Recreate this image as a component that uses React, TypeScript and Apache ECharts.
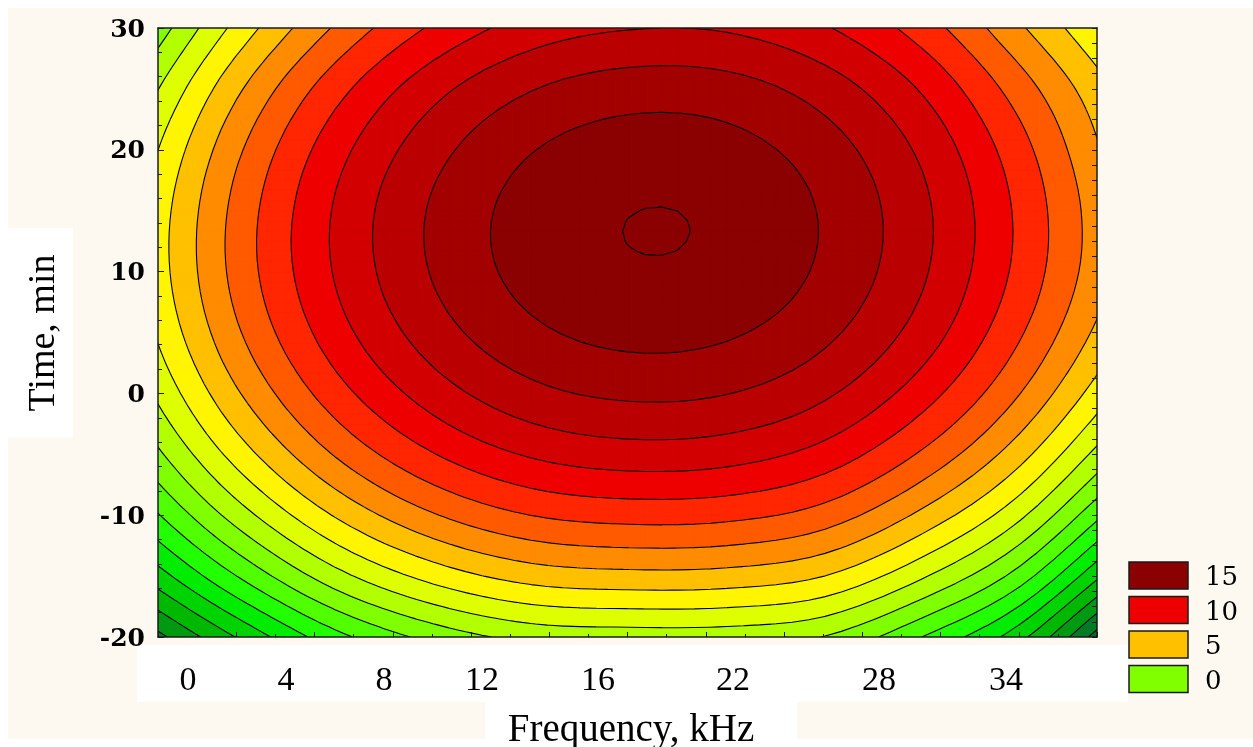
import React, { useEffect, useRef } from "react";
import * as echarts from "echarts";

// ---------- data ----------
// grid of the fitted response, Frequency (kHz) along x, Time (min) along y
const xNodes = [-2, 2, 6, 10, 14, 18, 22, 26, 30, 34, 38];
const yNodes = [-20, -15, -10, -5, 0, 5, 10, 15, 20, 25, 30];

const zTimeM20 = [-9.81, -6.18, -2.95, -0.84, 0.38, 0.6, 0.56, -0.06, -2.53, -5.9, -12.0];
const zTimeM15 = [-6.29, -2.49, 0.76, 2.96, 4.26, 4.61, 4.51, 3.74, 1.39, -1.89, -7.25];
const zTimeM10 = [-3.36, 0.58, 3.85, 6.14, 7.51, 7.96, 7.83, 6.93, 4.66, 1.48, -3.29];
const zTimeM5 = [-1.04, 3.03, 6.34, 8.69, 10.14, 10.68, 10.5, 9.5, 7.3, 4.18, -0.11];
const zTime0 = [0.69, 4.86, 8.2, 10.61, 12.13, 12.73, 12.53, 11.45, 9.3, 6.23, 2.29];
const zTime5 = [1.83, 6.08, 9.45, 11.91, 13.48, 14.13, 13.91, 12.79, 10.68, 7.61, 3.91];
const zTime10 = [2.35, 6.68, 10.09, 12.59, 14.19, 14.88, 14.66, 13.51, 11.4, 8.35, 4.75];
const zTime15 = [2.29, 6.65, 10.11, 12.65, 14.26, 14.98, 14.78, 13.61, 11.5, 8.44, 4.83];
const zTime20 = [1.63, 6.01, 9.5, 12.05, 13.69, 14.4, 14.21, 13.08, 10.98, 7.93, 4.31];
const zTime25 = [0.35, 4.76, 8.26, 10.83, 12.44, 13.14, 13.0, 11.91, 9.85, 6.83, 3.5];
const zTime30 = [-1.51, 2.9, 6.39, 8.94, 10.54, 11.19, 11.11, 10.11, 8.13, 5.15, 2.0];

const zGrid = [
  zTimeM20, zTimeM15, zTimeM10, zTimeM5, zTime0, zTime5,
  zTime10, zTime15, zTime20, zTime25, zTime30,
];

// contour levels (descending) and the fill colour of the band just below each level
const contourLevels = [
  15, 13.75, 12.5, 11.25, 10, 8.75, 7.5, 6.25, 5, 3.75, 2.5, 1.25, 0,
  -1.25, -2.5, -3.75, -5, -6.25, -7.5, -8.75, -10, -11.25, -12.5,
];
const bandColors = [
  "#8B0000", "#A30000", "#BA0000", "#D20000", "#EE0000", "#FF2600",
  "#FF5A00", "#FF8C00", "#FFC000", "#FFF500", "#DEFF00", "#B2FF00",
  "#80FF00", "#50FF00", "#22FF00", "#00EC00", "#00D400", "#00B800",
  "#009A12", "#007C26", "#006A32", "#005A36", "#004A38",
];

const xTickLabels = ["0", "4", "8", "12", "16", "22", "28", "34"];
const xTickPos = [0, 4, 8, 12, 16.73, 22.24, 28.2, 33.39];

const legendLabels = ["15", "10", "5", "0"];
const legendColors = ["#8B0000", "#EE0000", "#FFC000", "#80FF00"];

// ---------- layout ----------
const X_MIN = -1.2245;
const X_MAX = 37.102;
const UPSAMPLE = 6;

type P3 = [number, number, number];

function kernel(t: number): number {
  const a = -0.5;
  t = Math.abs(t);
  if (t <= 1) return (a + 2) * t * t * t - (a + 3) * t * t + 1;
  if (t < 2) return a * t * t * t - 5 * a * t * t + 8 * a * t - 4 * a;
  return 0;
}

function nodeVal(i: number, j: number): number {
  const nx = xNodes.length;
  const ny = yNodes.length;
  if (j < 0) return 2 * nodeVal(i, 0) - nodeVal(i, 1);
  if (j >= ny) return 2 * nodeVal(i, ny - 1) - nodeVal(i, ny - 2);
  if (i < 0) return 2 * zGrid[j][0] - zGrid[j][1];
  if (i >= nx) return 2 * zGrid[j][nx - 1] - zGrid[j][nx - 2];
  return zGrid[j][i];
}

function sampleZ(x: number, y: number): number {
  const u = (x - xNodes[0]) / (xNodes[1] - xNodes[0]);
  const v = (y - yNodes[0]) / (yNodes[1] - yNodes[0]);
  const i0 = Math.floor(u);
  const j0 = Math.floor(v);
  let s = 0;
  for (let dj = -1; dj <= 2; dj++) {
    const wy = kernel(v - (j0 + dj));
    if (wy === 0) continue;
    for (let di = -1; di <= 2; di++) {
      const wx = kernel(u - (i0 + di));
      if (wx === 0) continue;
      s += wx * wy * nodeVal(i0 + di, j0 + dj);
    }
  }
  return s;
}

function clipPoly(poly: P3[], level: number, keepAbove: boolean): P3[] {
  const out: P3[] = [];
  const n = poly.length;
  for (let i = 0; i < n; i++) {
    const a = poly[i];
    const b = poly[(i + 1) % n];
    const ina = keepAbove ? a[2] >= level : a[2] <= level;
    const inb = keepAbove ? b[2] >= level : b[2] <= level;
    if (ina) out.push(a);
    if (ina !== inb) {
      const t = (level - a[2]) / (b[2] - a[2]);
      out.push([a[0] + t * (b[0] - a[0]), a[1] + t * (b[1] - a[1]), level]);
    }
  }
  return out;
}

// number of contour levels lying above z (distinct for every interval)
function levelCount(z: number): number {
  let c = 0;
  for (const L of contourLevels) if (L > z) c++;
  return c;
}

function buildContours(ox: number, oy: number, sx: number, sy: number) {
  const nb = contourLevels.length;
  const nx = (xNodes.length - 1) * UPSAMPLE + 1;
  const ny = (yNodes.length - 1) * UPSAMPLE + 1;
  const dx = (xNodes[1] - xNodes[0]) / UPSAMPLE;
  const dy = (yNodes[1] - yNodes[0]) / UPSAMPLE;
  const XS: number[] = [];
  const YS: number[] = [];
  for (let i = 0; i < nx; i++) XS.push(xNodes[0] + i * dx);
  for (let j = 0; j < ny; j++) YS.push(yNodes[0] + j * dy);
  const Z = new Float64Array(nx * ny);
  for (let j = 0; j < ny; j++)
    for (let i = 0; i < nx; i++) Z[j * nx + i] = sampleZ(XS[i], YS[j]);

  const bands: string[][] = bandColors.map(() => []);
  const lines: string[] = [];
  const f = (p: P3) =>
    (ox + p[0] * sx).toFixed(2) + "," + (oy + p[1] * sy).toFixed(2);
  const polyStr = (poly: P3[]) => "M" + poly.map(f).join("L") + "Z";

  for (let j = 0; j < ny - 1; j++) {
    for (let i = 0; i < nx - 1; i++) {
      const a: P3 = [XS[i], YS[j], Z[j * nx + i]];
      const b: P3 = [XS[i + 1], YS[j], Z[j * nx + i + 1]];
      const c: P3 = [XS[i + 1], YS[j + 1], Z[(j + 1) * nx + i + 1]];
      const d: P3 = [XS[i], YS[j + 1], Z[(j + 1) * nx + i]];
      const cmin = Math.min(a[2], b[2], c[2], d[2]);
      const cmax = Math.max(a[2], b[2], c[2], d[2]);
      const cntMin = levelCount(cmin);
      if (cntMin === levelCount(cmax)) {
        bands[Math.max(cntMin - 1, 0)].push(polyStr([a, b, c, d]));
        continue;
      }
      const tris: P3[][] = [[a, b, c], [a, c, d]];
      for (const tri of tris) {
        const zmin = Math.min(tri[0][2], tri[1][2], tri[2][2]);
        const zmax = Math.max(tri[0][2], tri[1][2], tri[2][2]);
        for (let k = 0; k < nb; k++) {
          const hi = k === 0 ? Infinity : contourLevels[k];
          const lo = k === nb - 1 ? -Infinity : contourLevels[k + 1];
          if (hi < zmin || lo > zmax) continue;
          let poly = tri;
          if (lo > zmin) poly = clipPoly(poly, lo, true);
          if (poly.length >= 3 && hi < zmax) poly = clipPoly(poly, hi, false);
          if (poly.length >= 3) bands[k].push(polyStr(poly));
        }
        for (const L of contourLevels) {
          if (L <= zmin || L > zmax) continue;
          const pts: P3[] = [];
          for (let e = 0; e < 3; e++) {
            const p = tri[e];
            const q = tri[(e + 1) % 3];
            if ((p[2] >= L) !== (q[2] >= L)) {
              const t = (L - p[2]) / (q[2] - p[2]);
              pts.push([p[0] + t * (q[0] - p[0]), p[1] + t * (q[1] - p[1]), L]);
            }
          }
          if (pts.length === 2) lines.push("M" + f(pts[0]) + "L" + f(pts[1]));
        }
      }
    }
  }
  return { bands: bands.map((arr) => arr.join("")), lines: lines.join("") };
}

const renderContour = (_params: any, api: any) => {
  const o = api.coord([0, 0]);
  const ex = api.coord([1, 0]);
  const ey = api.coord([0, 1]);
  const { bands, lines } = buildContours(o[0], o[1], ex[0] - o[0], ey[1] - o[1]);
  const children: any[] = [];
  bands.forEach((d, k) => {
    if (d) {
      children.push({
        type: "path",
        shape: { pathData: d },
        style: { fill: bandColors[k], stroke: bandColors[k], lineWidth: 0.6 },
      });
    }
  });
  children.push({
    type: "path",
    shape: { pathData: lines },
    style: { fill: "none", stroke: "#000", lineWidth: 1.1 },
  });
  return { type: "group", children };
};

const FRAME = { color: "#1a1a1a", width: 1.5 };
const TICK = { color: "#1a1a1a", width: 1 };
const SERIF = "Liberation Serif";

const legendElements: any[] = [];
legendLabels.forEach((lab, i) => {
  const y = 554 + i * 34.5;
  legendElements.push({
    type: "rect",
    z: 20,
    shape: { x: 1121, y, width: 59, height: 27 },
    style: { fill: legendColors[i], stroke: "#1a1a1a", lineWidth: 1.5 },
  });
  legendElements.push({
    type: "text",
    z: 20,
    x: 1197,
    y: y + 14,
    style: {
      text: lab,
      fill: "#000",
      font: '26px "DejaVu Serif"',
      textAlign: "left",
      textVerticalAlign: "middle",
    },
  });
});

const option: any = {
  animation: false,
  grid: {
    left: 150,
    top: 20,
    width: 939,
    height: 609,
    containLabel: false,
    outerBoundsMode: "none",
  },
  xAxis: [
    {
      type: "value",
      position: "bottom",
      min: X_MIN,
      max: X_MAX,
      z: 10,
      axisLine: { show: true, onZero: false, lineStyle: FRAME },
      axisTick: { show: false },
      splitLine: { show: false },
      axisLabel: {
        customValues: xTickPos,
        formatter: (v: number) => {
          let best = 0;
          for (let i = 1; i < xTickPos.length; i++)
            if (Math.abs(xTickPos[i] - v) < Math.abs(xTickPos[best] - v)) best = i;
          return xTickLabels[best];
        },
        margin: 24,
        color: "#000",
        fontFamily: SERIF,
        fontSize: 34,
        lineHeight: 34,
      },
    },
    {
      type: "value",
      position: "bottom",
      min: 0,
      max: 12,
      interval: 1,
      z: 10,
      axisLine: { show: false, onZero: false },
      axisLabel: { show: false },
      splitLine: { show: false },
      axisTick: { show: true, inside: true, length: 5, lineStyle: TICK },
      minorTick: { show: true, splitNumber: 2, length: 3, lineStyle: TICK },
    },
    {
      type: "value",
      position: "top",
      min: 0,
      max: 1,
      z: 10,
      axisLine: { show: true, onZero: false, lineStyle: FRAME },
      axisTick: { show: false },
      axisLabel: { show: false },
      splitLine: { show: false },
    },
  ],
  yAxis: [
    {
      type: "value",
      position: "left",
      min: -20,
      max: 30,
      interval: 10,
      z: 10,
      axisLine: { show: true, onZero: false, lineStyle: FRAME },
      axisTick: { show: true, inside: true, length: 6, lineStyle: TICK },
      minorTick: { show: true, splitNumber: 5, length: 4, lineStyle: TICK },
      splitLine: { show: false },
      axisLabel: {
        margin: 13,
        color: "#000",
        fontFamily: "DejaVu Serif",
        fontWeight: "bold",
        fontSize: 25,
      },
    },
    {
      type: "value",
      position: "right",
      min: 0,
      max: 40,
      interval: 1,
      z: 10,
      axisLine: { show: true, onZero: false, lineStyle: FRAME },
      axisTick: { show: true, inside: true, length: 5, lineStyle: TICK },
      axisLabel: { show: false },
      splitLine: { show: false },
    },
  ],
  series: [
    {
      type: "custom",
      xAxisIndex: 0,
      yAxisIndex: 0,
      clip: true,
      silent: true,
      z: 2,
      data: [[xNodes[0], yNodes[0]]],
      renderItem: renderContour,
    },
  ],
  graphic: {
    elements: [
      {
        type: "rect",
        z: -100,
        silent: true,
        shape: { x: 0, y: 0, width: 1245, height: 731 },
        style: { fill: "#FEF9F0" },
      },
      {
        type: "rect",
        z: -90,
        silent: true,
        shape: { x: 0, y: 220, width: 65, height: 210 },
        style: { fill: "#FFFFFF" },
      },
      {
        type: "rect",
        z: -90,
        silent: true,
        shape: { x: 129, y: 637, width: 991, height: 57 },
        style: { fill: "#FFFFFF" },
      },
      {
        type: "rect",
        z: -90,
        silent: true,
        shape: { x: 477, y: 694, width: 312, height: 45 },
        style: { fill: "#FFFFFF" },
      },
      {
        type: "text",
        z: 20,
        x: 33,
        y: 325,
        rotation: Math.PI / 2,
        style: {
          text: "Time, min",
          fill: "#000",
          font: '38px "Liberation Serif"',
          textAlign: "center",
          textVerticalAlign: "middle",
        },
      },
      {
        type: "text",
        z: 20,
        x: 623,
        y: 719,
        style: {
          text: "Frequency, kHz",
          fill: "#000",
          font: '39px "Liberation Serif"',
          textAlign: "center",
          textVerticalAlign: "middle",
        },
      },
      ...legendElements,
    ],
  },
};

export default function App() {
  const ref = useRef<HTMLDivElement>(null);
  useEffect(() => {
    if (!ref.current) return;
    const chart = echarts.init(ref.current, null, { renderer: "svg" });
    chart.setOption(option);
    return () => {
      chart.dispose();
    };
  }, []);
  return (
    <div
      ref={ref}
      style={{ position: "fixed", left: 8, top: 8, width: 1245, height: 739 }}
    />
  );
}
